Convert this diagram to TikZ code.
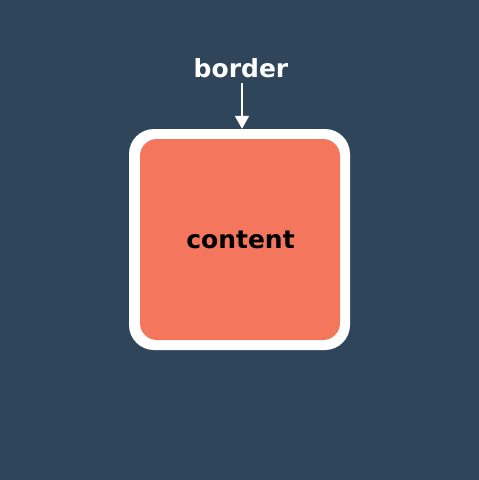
\documentclass[tikz,border=0pt]{standalone}
\usepackage{fontspec}
\setmainfont{DejaVu Sans}
\usetikzlibrary{arrows.meta}
\definecolor{bg}{HTML}{2F4559}
\definecolor{salmon}{HTML}{F3765D}
\tikzset{
  lbl/.style={font=\bfseries\fontsize{25}{29}\selectfont, inner sep=0pt},
  arr/.style={draw=white, line width=2pt, -{Triangle[width=14pt,length=13pt]}},
}
\begin{document}
\begin{tikzpicture}[x=1pt,y=-1pt]
\fill[bg] (0,0) rectangle (479,480);
\useasboundingbox (0,0) rectangle (479,480);
\node[fill=white, rounded corners=25pt, minimum width=221pt, minimum height=221pt, inner sep=0pt] (outer) at (239.5,239.5) {};
\node[fill=salmon, rounded corners=17pt, minimum width=200pt, minimum height=201pt, inner sep=0pt] (inner) at (240,239.5) {};
\node[lbl, text=black, anchor=base] (content) at (240.5,248) {content};
\node[lbl, text=white, anchor=base] (blabel) at (241,77) {border};
\coordinate (atop) at (242,83);
\draw[arr] (atop) -- (atop |- outer.north);
\end{tikzpicture}
\end{document}
